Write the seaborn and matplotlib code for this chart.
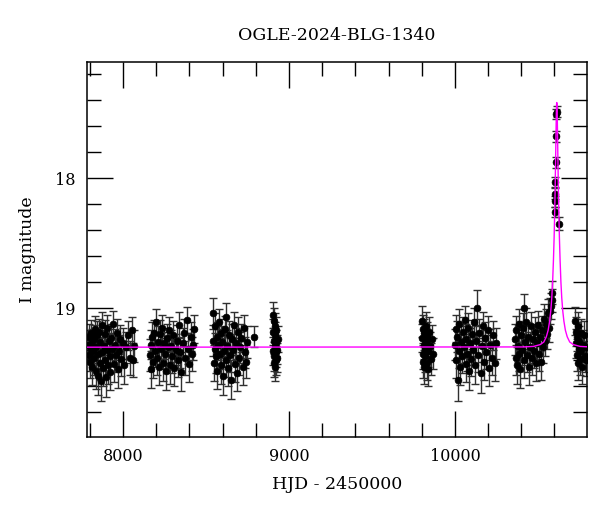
#OGLE-2024-BLG-1340 light curve________________________________________________

import numpy as np
import pandas as pd
import seaborn as sns
import matplotlib
matplotlib.use('Agg')
import matplotlib.pyplot as plt
from matplotlib.ticker import MultipleLocator, FormatStrFormatter

#Photometry by season (HJD-2450000, I mag, error)
t_s1 = [7792, 7795, 7798, 7801, 7805, 7808, 7812, 7815, 7819, 7823, 7827, 7831, 7835, 7839,
        7843, 7847, 7851, 7855, 7859, 7863, 7868, 7872, 7876, 7880, 7885, 7889, 7893, 7898,
        7902, 7906, 7911, 7915, 7920, 7924, 7929, 7934, 7939, 7944, 7950, 7956, 7962, 7968,
        7975, 7982, 7990, 7998, 8008, 8018, 8030, 8042, 8055, 8062, 8068]
m_s1 = [19.28, 19.36, 19.22, 19.41, 19.31, 19.19, 19.45, 19.27, 19.33, 19.24, 19.38, 19.16, 19.48, 19.30,
        19.21, 19.52, 19.35, 19.18, 19.42, 19.26, 19.56, 19.34, 19.13, 19.46, 19.29, 19.40, 19.20, 19.53,
        19.32, 19.15, 19.44, 19.25, 19.37, 19.49, 19.23, 19.31, 19.12, 19.43, 19.28, 19.36, 19.19, 19.47,
        19.33, 19.24, 19.39, 19.27, 19.44, 19.30, 19.21, 19.38, 19.17, 19.40, 19.29]
e_s1 = [.11, .12, .10, .13, .12, .10, .14, .11, .12, .11, .13, .10, .14, .12,
        .11, .15, .12, .10, .13, .11, .15, .12, .10, .14, .12, .13, .11, .15,
        .12, .10, .14, .11, .13, .14, .11, .12, .10, .14, .12, .13, .11, .14,
        .12, .11, .13, .12, .14, .12, .11, .13, .10, .13, .12]

t_s2 = [8162, 8166, 8170, 8175, 8180, 8186, 8192, 8198, 8204, 8210, 8216, 8222, 8228, 8234,
        8240, 8246, 8252, 8258, 8264, 8270, 8276, 8283, 8290, 8296, 8303, 8310, 8317, 8324,
        8331, 8338, 8345, 8352, 8360, 8368, 8376, 8384, 8392, 8400, 8408, 8416, 8424, 8430]
m_s2 = [19.36, 19.47, 19.28, 19.22, 19.41, 19.19, 19.33, 19.11, 19.38, 19.26, 19.45, 19.20, 19.31, 19.15,
        19.42, 19.27, 19.35, 19.48, 19.23, 19.30, 19.17, 19.44, 19.29, 19.37, 19.21, 19.46, 19.32, 19.25,
        19.40, 19.13, 19.34, 19.49, 19.27, 19.19, 19.38, 19.09, 19.31, 19.43, 19.22, 19.35, 19.28, 19.16]
e_s2 = [.12, .14, .11, .11, .13, .10, .12, .10, .13, .12, .14, .11, .12, .10,
        .14, .12, .12, .15, .11, .12, .10, .14, .12, .13, .11, .14, .12, .12,
        .13, .10, .12, .15, .12, .11, .13, .10, .12, .14, .11, .13, .12, .11]

t_s3 = [8542, 8545, 8548, 8552, 8556, 8560, 8565, 8569, 8574, 8578, 8583, 8588, 8593, 8598,
        8603, 8608, 8613, 8618, 8623, 8628, 8634, 8640, 8646, 8652, 8658, 8664, 8670, 8676,
        8682, 8688, 8694, 8700, 8707, 8714, 8721, 8728, 8735, 8742, 8750, 8790]
m_s3 = [19.04, 19.25, 19.42, 19.31, 19.14, 19.37, 19.22, 19.48, 19.28, 19.11, 19.35, 19.19, 19.44, 19.26,
        19.52, 19.33, 19.16, 19.40, 19.07, 19.29, 19.46, 19.21, 19.36, 19.55, 19.24, 19.32, 19.13, 19.43,
        19.27, 19.50, 19.18, 19.38, 19.30, 19.23, 19.45, 19.15, 19.34, 19.41, 19.26, 19.22]
e_s3 = [.12, .12, .14, .12, .10, .13, .11, .14, .12, .10, .12, .11, .14, .12,
        .15, .12, .10, .13, .11, .12, .14, .11, .13, .15, .12, .12, .10, .14,
        .12, .14, .11, .13, .12, .11, .14, .10, .12, .13, .12, .08]

t_s4 = [8902, 8904, 8905, 8907, 8908, 8910, 8911, 8913, 8914, 8916, 8918, 8919, 8921, 8923,
        8925, 8927, 8930, 8933]
m_s4 = [19.05, 19.18, 19.33, 19.10, 19.42, 19.25, 19.37, 19.14, 19.29, 19.45, 19.21, 19.34, 19.40, 19.27,
        19.17, 19.32, 19.38, 19.24]
e_s4 = [.10, .10, .11, .10, .11, .10, .11, .10, .11, .11, .10, .11, .11, .10,
        .10, .11, .11, .10]

t_s5 = [9801, 9803, 9805, 9807, 9809, 9811, 9813, 9816, 9818, 9821, 9824, 9827, 9830, 9833,
        9837, 9841, 9846, 9851, 9857, 9863, 9869]
m_s5 = [19.10, 19.23, 19.35, 19.16, 19.41, 19.28, 19.45, 19.19, 19.31, 19.37, 19.14, 19.26, 19.42, 19.22,
        19.33, 19.47, 19.18, 19.29, 19.39, 19.24, 19.35]
e_s5 = [.12, .11, .12, .11, .13, .11, .13, .11, .12, .12, .11, .11, .13, .11,
        .12, .13, .11, .11, .12, .11, .12]

t_s6 = [10000, 10004, 10008, 10012, 10018, 10022, 10027, 10032, 10037, 10042, 10048, 10053, 10059, 10064,
        10070, 10076, 10082, 10088, 10094, 10100, 10106, 10112, 10118, 10124, 10130, 10136, 10142, 10148,
        10155, 10162, 10169, 10176, 10183, 10190, 10198, 10206, 10214, 10222, 10230, 10240, 10250]
m_s6 = [19.28, 19.16, 19.40, 19.22, 19.55, 19.33, 19.12, 19.45, 19.26, 19.37, 19.18, 19.30, 19.09, 19.43,
        19.24, 19.35, 19.15, 19.48, 19.27, 19.39, 19.20, 19.32, 19.11, 19.44, 19.25, 19.00, 19.36, 19.19,
        19.50, 19.29, 19.14, 19.41, 19.23, 19.34, 19.17, 19.46, 19.28, 19.38, 19.21, 19.42, 19.27]
e_s6 = [.12, .11, .14, .12, .16, .13, .11, .14, .12, .13, .11, .12, .11, .14,
        .12, .13, .11, .15, .12, .13, .11, .12, .11, .14, .12, .14, .13, .11,
        .15, .12, .11, .14, .12, .13, .11, .14, .12, .13, .11, .14, .12]

t_s7 = [10362, 10366, 10370, 10374, 10379, 10384, 10389, 10394, 10399, 10404, 10409, 10414, 10419, 10424,
        10429, 10434, 10440, 10446, 10452, 10458, 10464, 10470, 10476, 10482, 10488, 10494, 10500, 10506,
        10512, 10518, 10524, 10530, 10536, 10542, 10548, 10554, 10560, 10566, 10572, 10578, 10584, 10588]
m_s7 = [19.24, 19.38, 19.17, 19.44, 19.29, 19.12, 19.35, 19.47, 19.21, 19.32, 19.15, 19.00, 19.40, 19.26,
        19.11, 19.36, 19.22, 19.45, 19.30, 19.14, 19.38, 19.24, 19.33, 19.18, 19.42, 19.27, 19.13, 19.35,
        19.22, 19.41, 19.17, 19.30, 19.08, 19.25, 19.12, 19.20, 19.04, 19.15, 19.02, 18.98, 18.94, 18.88]
e_s7 = [.12, .13, .11, .14, .12, .11, .13, .14, .11, .12, .11, .11, .14, .12,
        .11, .13, .11, .14, .12, .11, .13, .12, .13, .11, .14, .12, .11, .13,
        .11, .14, .11, .12, .11, .12, .11, .11, .11, .11, .10, .10, .09, .09]

t_pk = [10601, 10603, 10604, 10605, 10607, 10609, 10612, 10616, 10628]
m_pk = [18.26, 18.18, 18.12, 18.03, 17.88, 17.68, 17.51, 17.49, 18.35]
e_pk = [.04, .04, .04, .04, .04, .04, .04, .04, .05]

t_s8 = [10724, 10727, 10730, 10733, 10736, 10739, 10742, 10746, 10750, 10754, 10758, 10763, 10768, 10773,
        10778, 10783, 10788, 10793]
m_s8 = [19.10, 19.27, 19.18, 19.36, 19.22, 19.42, 19.14, 19.31, 19.25, 19.39, 19.19, 19.33, 19.45, 19.28,
        19.21, 19.37, 19.30, 19.40]
e_s8 = [.11, .11, .11, .12, .11, .13, .11, .11, .11, .12, .11, .12, .13, .11,
        .11, .12, .11, .12]

#Model light curve
model_t = [7700, 10414, 10474, 10514, 10536, 10551, 10562, 10571, 10578, 10584, 10589, 10594,
           10598, 10601, 10604, 10606, 10607, 10608, 10609, 10610, 10611, 10612, 10613, 10614,
           10615, 10616, 10617, 10618, 10619, 10620, 10621, 10622, 10624, 10627, 10630, 10634,
           10639, 10644, 10650, 10657, 10666, 10677, 10692, 10714, 10754, 10814]
model_mag = [19.30, 19.298, 19.294, 19.28, 19.26, 19.22, 19.17, 19.10, 19.02, 18.92, 18.80, 18.63,
             18.46, 18.30, 18.10, 17.94, 17.86, 17.78, 17.69, 17.61, 17.53, 17.47, 17.43, 17.42,
             17.43, 17.47, 17.53, 17.61, 17.69, 17.78, 17.86, 17.94, 18.10, 18.30, 18.46, 18.63,
             18.80, 18.92, 19.02, 19.10, 19.17, 19.22, 19.26, 19.28, 19.294, 19.298]

phot = pd.DataFrame({
    'hjd': t_s1 + t_s2 + t_s3 + t_s4 + t_s5 + t_s6 + t_s7 + t_pk + t_s8,
    'mag': m_s1 + m_s2 + m_s3 + m_s4 + m_s5 + m_s6 + m_s7 + m_pk + m_s8,
    'err': e_s1 + e_s2 + e_s3 + e_s4 + e_s5 + e_s6 + e_s7 + e_pk + e_s8})
model = pd.DataFrame({'hjd': model_t, 'mag': model_mag})

sns.set_style('ticks')
plt.rcParams['font.family'] = ['DejaVu Serif']
plt.rcParams['text.color'] = 'black'
plt.rcParams['axes.labelcolor'] = 'black'
plt.rcParams['xtick.color'] = 'black'
plt.rcParams['ytick.color'] = 'black'

fig = plt.figure(figsize=(6, 5.12), dpi=100)
ax = fig.add_axes([0.145, 0.1465, 0.833, 0.7325])

ax.errorbar(phot['hjd'], phot['mag'], yerr=phot['err'], fmt='none',
            ecolor='#303030', elinewidth=1, capsize=3, capthick=1, zorder=2)
sns.scatterplot(data=phot, x='hjd', y='mag', ax=ax, color='black', s=24,
                edgecolor='black', linewidth=0.5, zorder=3)
sns.lineplot(data=model, x='hjd', y='mag', ax=ax, color='#ff00ff', lw=1,
             sort=False, zorder=4)

ax.set_xlim(7783, 10795)
ax.set_ylim(19.99, 17.108)
ax.xaxis.set_major_locator(MultipleLocator(1000))
ax.xaxis.set_minor_locator(MultipleLocator(200))
ax.yaxis.set_major_locator(MultipleLocator(1))
ax.yaxis.set_minor_locator(MultipleLocator(0.2))
ax.yaxis.set_major_formatter(FormatStrFormatter('%g'))
ax.tick_params(which='both', direction='in', top=True, right=True,
               width=1, labelsize=11.5, pad=8, color='black', labelcolor='black')
ax.tick_params(which='major', length=19)
ax.tick_params(which='minor', length=10)
for sp in ax.spines.values():
    sp.set_linewidth(1.1)
    sp.set_color('black')

ax.set_title('OGLE-2024-BLG-1340', fontsize=12.5, pad=16, color='black')
ax.set_xlabel('HJD - 2450000', fontsize=12.5, labelpad=8)
ax.set_ylabel('I magnitude', fontsize=12.5, labelpad=14)

fig.savefig('out.png', dpi=100)
